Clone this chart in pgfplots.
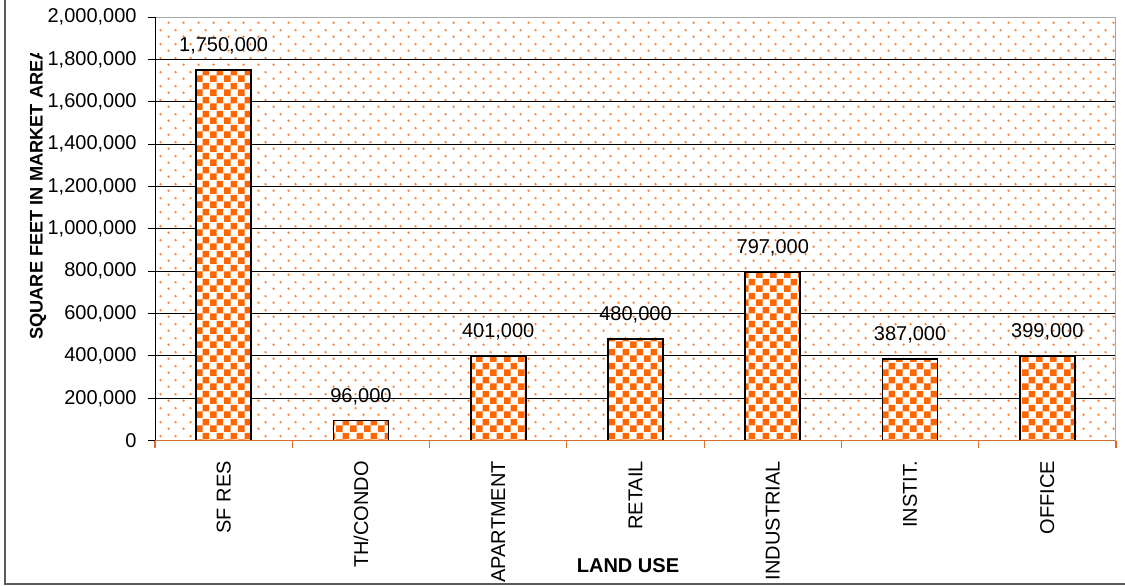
\documentclass[border=0pt]{standalone}
\usepackage{pgfplots}
\pgfplotsset{compat=1.18}
\usepackage{fontspec}
\setmainfont{Liberation Sans}
\usetikzlibrary{patterns}
\definecolor{barorange}{RGB}{255,102,0}
\definecolor{dotorange}{RGB}{255,130,50}
\definecolor{axisorange}{RGB}{215,110,45}
\definecolor{framegray}{RGB}{90,90,90}
\pgfdeclarepatternformonly{mydots}{\pgfqpoint{0pt}{0pt}}{\pgfqpoint{7.5pt}{7pt}}{\pgfqpoint{7.5pt}{7pt}}{%
  \pgfpathcircle{\pgfqpoint{1.9pt}{1.75pt}}{0.7pt}%
  \pgfpathcircle{\pgfqpoint{5.65pt}{5.25pt}}{0.7pt}%
  \pgfusepath{fill}}
\pgfdeclarepatternformonly{mycheck}{\pgfqpoint{0pt}{0pt}}{\pgfqpoint{7pt}{7pt}}{\pgfqpoint{7pt}{7pt}}{%
  \pgfpathrectangle{\pgfqpoint{0pt}{0pt}}{\pgfqpoint{3.5pt}{3.5pt}}%
  \pgfpathrectangle{\pgfqpoint{3.5pt}{3.5pt}}{\pgfqpoint{3.5pt}{3.5pt}}%
  \pgfusepath{fill}}
\begin{document}
\begin{tikzpicture}
\useasboundingbox (0pt,0pt) rectangle (562.5pt,292.5pt);
\draw[framegray, line width=1pt] (2.5pt,292.5pt) -- (2.5pt,0.5pt) -- (562.5pt,0.5pt);
\begin{scope}
\clip (0pt,0pt) rectangle (60pt,265.5pt);
\node[rotate=90, anchor=west, font=\fontsize{9.1}{11}\selectfont\bfseries, inner sep=0pt] at (19pt,122.5pt) {SQUARE FEET IN MARKET AREA};
\end{scope}
\node[font=\fontsize{10}{12}\selectfont\bfseries] at (314pt,9.5pt) {LAND USE};
\begin{axis}[
  at={(77.5pt,72.15pt)}, anchor=south west,
  scale only axis, width=480.5pt, height=211.85pt,
  xmin=-0.5, xmax=6.5, ymin=0, ymax=2000000,
  axis line style={draw=none},
  axis background/.style={fill=white, postaction={pattern=mydots, pattern color=dotorange}},
  font=\fontsize{10}{12}\selectfont,
  /pgf/number format/assume math mode=true,
  /pgf/number format/.cd, fixed, precision=0, 1000 sep={,}, /pgfplots/.cd,
  scaled y ticks=false,
  xtick pos=bottom, ytick pos=left,
  ytick={0,200000,...,2000000},
  ymajorgrids, grid style={black, line width=0.5pt},
  tick align=outside, major tick length=3.5pt,
  ytick style={black, line width=0.5pt},
  xtick={0,...,6},
  xticklabels={SF RES, TH/CONDO, APARTMENT, RETAIL, INDUSTRIAL, INSTIT., OFFICE},
  major x tick style={draw=none},
  minor xtick={-0.5,0.5,...,6.5},
  minor tick length=3.5pt,
  minor x tick style={draw=axisorange, line width=0.6pt},
  xticklabel style={rotate=90, anchor=east, inner sep=0pt},
  xticklabel shift=6.5pt,
  yticklabel style={inner sep=0pt},
  yticklabel shift=5.5pt,
  ybar, bar width=27.5pt,
  nodes near coords,
  every node near coord/.append style={inner sep=0pt, yshift=7.5pt, font=\fontsize{10}{12}\selectfont},
]
\addplot[draw=black, line width=0.8pt, fill=white, postaction={pattern=mycheck, pattern color=barorange}] coordinates {
(0,1750000) (1,96000) (2,401000) (3,480000) (4,797000) (5,387000) (6,399000)};
\draw[gray!70, line width=0.8pt] (rel axis cs:0,1) -- (rel axis cs:1,1) -- (rel axis cs:1,0);
\draw[black, line width=0.6pt] (rel axis cs:0,0) -- (rel axis cs:0,1);
\draw[axisorange, line width=0.9pt] (rel axis cs:0,0) -- (rel axis cs:1,0);
\end{axis}
\end{tikzpicture}
\end{document}
